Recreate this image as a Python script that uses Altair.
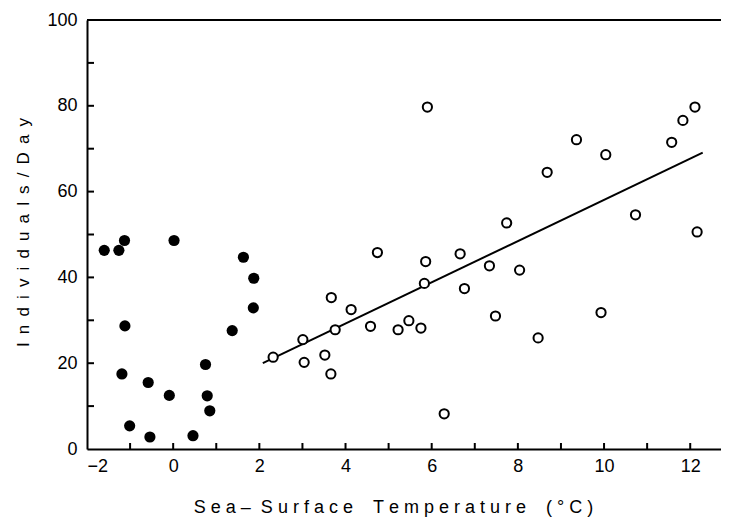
import altair as alt
import pandas as pd

# Filled circles (cold-water group)
filled_x = [-1.60, -1.26, -1.13, 0.02, -1.12, -1.19, -0.58, -0.09, 0.75, 0.79,
            0.85, -1.01, -0.54, 0.46, 1.37, 1.63, 1.87, 1.86]
filled_y = [46.3, 46.3, 48.6, 48.6, 28.7, 17.5, 15.5, 12.5, 19.7, 12.4,
            8.9, 5.4, 2.8, 3.1, 27.6, 44.7, 39.8, 32.9]

# Open circles (warm-water group)
open_x = [2.32, 3.01, 3.04, 3.52, 3.66, 3.67, 3.76, 4.13, 4.58, 4.74,
          5.22, 5.47, 5.75, 5.83, 5.86, 5.90, 6.29, 6.66, 6.76, 7.34,
          7.48, 7.74, 8.04, 8.47, 8.68, 9.36, 9.93, 10.04, 10.73, 11.57,
          11.83, 12.11, 12.16]
open_y = [21.4, 25.5, 20.2, 21.9, 17.5, 35.3, 27.8, 32.5, 28.6, 45.8,
          27.8, 29.9, 28.2, 38.6, 43.7, 79.7, 8.2, 45.5, 37.4, 42.7,
          31.0, 52.7, 41.7, 25.9, 64.5, 72.1, 31.8, 68.6, 54.6, 71.5,
          76.6, 79.7, 50.6]

# Regression line endpoints
line_x = [2.08, 12.29]
line_y = [20.0, 69.1]

x_tick_vals = list(range(-1, 13))
y_tick_vals = list(range(10, 100, 10))
x_label_vals = [-2, 0, 2, 4, 6, 8, 10, 12]
y_label_vals = [0, 20, 40, 60, 80, 100]

W, H = 634, 429      # drawn area (clipped at the page edge)
RANGE_W = 642        # full x range, -2 .. 12.9
FONT = "Liberation Sans"

xscale = alt.Scale(domain=[-2, 12.9], nice=False, zero=False, range=[0, RANGE_W])
yscale = alt.Scale(domain=[0, 100], nice=False)

df_f = pd.DataFrame({"x": filled_x, "y": filled_y})
df_o = pd.DataFrame({"x": open_x, "y": open_y})
df_l = pd.DataFrame({"x": line_x, "y": line_y})
df_xt = pd.DataFrame({"t": x_tick_vals})
df_yt = pd.DataFrame({"t": y_tick_vals})

NB = "\u00a0"
def spaced(words, gap, word_gap):
    return word_gap.join(gap.join(list(w)) for w in words)

x_title = spaced(["Sea–", "Surface", "Temperature", "(°C)"], NB, NB * 4)
x_title = x_title.replace("–" + NB * 4, "–" + NB * 2)
y_title = spaced(["Individuals/Day"], NB + "\u2009", NB)

xaxis = alt.Axis(values=x_label_vals, ticks=False, grid=False, domain=True,
                 domainColor="black", domainWidth=2, labelFont=FONT,
                 labelFontSize=18, labelColor="black", labelPadding=8,
                 title=x_title, titleFont=FONT, titleFontSize=18,
                 titleFontWeight="normal", titleColor="black",
                 titleX=306, titleY=63, titleBaseline="alphabetic", titleAnchor="middle")
yaxis = alt.Axis(values=y_label_vals, ticks=False, grid=False, domain=True,
                 domainColor="black", domainWidth=2, labelFont=FONT,
                 labelFontSize=18, labelColor="black", labelPadding=10,
                 title=y_title, titleFont=FONT, titleFontSize=17,
                 titleFontWeight="normal", titleColor="black",
                 titleAngle=-90, titleX=-64, titleY=212,
                 titleBaseline="middle", titleAnchor="middle")

X = lambda f: alt.X(f"{f}:Q", scale=xscale, axis=xaxis)
Y = lambda f: alt.Y(f"{f}:Q", scale=yscale, axis=yaxis)

base_line = alt.Chart(df_l).mark_line(color="black", strokeWidth=2).encode(
    x=X("x"), y=Y("y"),
)
xticks = alt.Chart(df_xt).mark_rule(color="black", strokeWidth=2).encode(
    x=X("t"), y=alt.value(H), y2=alt.value(H - 6),
)
yticks = alt.Chart(df_yt).mark_rule(color="black", strokeWidth=2).encode(
    y=Y("t"), x=alt.value(0), x2=alt.value(7),
)
top_border = alt.Chart(df_yt).mark_rule(color="black", strokeWidth=2).encode(
    x=alt.value(0), x2=alt.value(RANGE_W), y=alt.value(0),
)
filled = alt.Chart(df_f).mark_circle(color="black", opacity=1, size=125).encode(
    x=X("x"), y=Y("y"),
)
opened = alt.Chart(df_o).mark_point(shape="circle", filled=False, stroke="black",
                                     fill="white", fillOpacity=1, strokeWidth=2,
                                     opacity=1, size=85).encode(
    x=X("x"), y=Y("y"),
)

chart = alt.layer(base_line, xticks, yticks, top_border, filled, opened).properties(
    width=W, height=H,
    autosize=alt.AutoSizeParams(type="none"),
    padding={"left": 79, "top": 12, "right": 0, "bottom": 68},
).configure_view(stroke=None).configure(background="white")

chart.save("out.html", embed_options={"renderer": "svg", "actions": False})
